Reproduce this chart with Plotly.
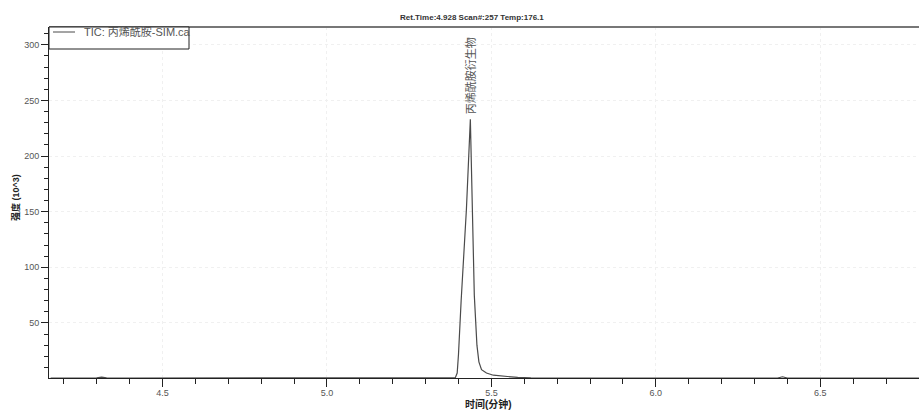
import plotly.graph_objects as go

# Chromatogram data (time in minutes, intensity in 10^3)
times = [4.16, 4.25, 4.30, 4.315, 4.33, 4.40, 4.60, 4.80, 5.00, 5.20, 5.35, 5.390,
         5.396, 5.400, 5.408, 5.424, 5.436, 5.442, 5.448, 5.456, 5.462, 5.470,
         5.485, 5.506, 5.540, 5.580, 5.620, 5.80, 6.00, 6.20, 6.37, 6.385, 6.40,
         6.55, 6.80]
intensity = [0.5, 0.5, 0.6, 1.3, 0.6, 0.5, 0.5, 0.5, 0.5, 0.5, 0.5, 0.6,
             5, 22, 70, 152, 233, 140, 75, 30, 15, 8,
             5, 3, 2, 1, 0.6, 0.5, 0.5, 0.5, 0.5, 1.6, 0.5,
             0.5, 0.5]

series_name = "TIC: 丙烯酰胺-SIM.ca"
peak_label = "丙烯酰胺衍生物"
peak_time = 5.436
peak_height = 233
title_text = "Ret.Time:4.928 Scan#:257 Temp:176.1"
x_title = "时间(分钟)"
y_title = "强度 (10^3)"
x_ticks = [4.5, 5.0, 5.5, 6.0, 6.5]
y_ticks = [50, 100, 150, 200, 250, 300]

FONT = "Liberation Sans, Arial, Noto Sans CJK SC"

fig = go.Figure()
fig.add_trace(go.Scatter(x=times, y=intensity, mode="lines", name=series_name,
                         line=dict(color="#4a4a4a", width=1.2), showlegend=False))

W, H = 919, 410
ml, mr, mt, mb = 49, 0, 27, 32
pw = W - ml - mr
ph = H - mt - mb

fig.update_layout(
    width=W, height=H,
    margin=dict(l=ml, r=mr, t=mt, b=mb, autoexpand=False),
    paper_bgcolor="white", plot_bgcolor="white",
    font=dict(family=FONT, size=9, color="#444"),
    showlegend=False,
)
fig.update_xaxes(
    range=[4.155, 6.80], showline=True, linecolor="#222", linewidth=1,
    tickvals=x_ticks, ticktext=[f"{v:.1f}" for v in x_ticks],
    ticks="outside", ticklen=8, tickcolor="#222", tickwidth=1,
    minor=dict(dtick=0.1, tick0=4.0, ticks="outside", ticklen=5, tickcolor="#222", showgrid=False),
    showgrid=True, gridcolor="#f0f0f0", griddash="dot", gridwidth=1,
    zeroline=False, tickfont=dict(size=9, color="#555"), automargin=False,
    ticklabelstandoff=-2,
)
fig.update_yaxes(
    range=[0.5, 316], showline=True, linecolor="#222", linewidth=1,
    tickvals=y_ticks, ticks="outside", ticklen=7, tickcolor="#222", tickwidth=1,
    minor=dict(dtick=10, tick0=0, ticks="outside", ticklen=4, tickcolor="#222", showgrid=False),
    showgrid=True, gridcolor="#f0f0f0", griddash="dot", gridwidth=1,
    zeroline=False, tickfont=dict(size=9, color="#555"), automargin=False,
)

# axis titles
fig.add_annotation(xref="paper", yref="paper", x=(488 - ml) / pw, y=-(404 - (mt + ph)) / ph,
                   xanchor="center", yanchor="middle", text=f"<b>{x_title}</b>",
                   showarrow=False, font=dict(size=10, color="#222", family=FONT))
fig.add_annotation(xref="paper", yref="paper", x=-(49 - 15) / pw, y=(mt + ph - 198) / ph,
                   xanchor="center", yanchor="middle", text=f"<b>{y_title}</b>", textangle=-90,
                   showarrow=False, font=dict(size=9, color="#222", family=FONT))

# top border
fig.add_shape(type="line", xref="paper", yref="paper", x0=0, x1=1, y0=1, y1=1,
              line=dict(color="#777", width=2))

# legend box (drawn manually)
fig.add_shape(type="rect", xref="paper", yref="paper",
              x0=0, x1=140 / pw, y0=1 - 22 / ph, y1=1,
              line=dict(color="#222", width=1), fillcolor="white")
fig.add_shape(type="line", xref="paper", yref="paper",
              x0=4 / pw, x1=26 / pw, y0=1 - 5 / ph, y1=1 - 5 / ph,
              line=dict(color="#4a4a4a", width=1))
fig.add_annotation(xref="paper", yref="paper", x=33 / pw, y=1 - 5 / ph,
                   xanchor="left", yanchor="middle", text=series_name,
                   showarrow=False, font=dict(size=11, color="#555", family=FONT))

# title
fig.add_annotation(xref="paper", yref="paper", x=(472 - ml) / pw, y=1 + 10 / ph,
                   xanchor="center", yanchor="middle", text=f"<b>{title_text}</b>",
                   showarrow=False, font=dict(size=8, color="#333", family=FONT))

# peak label
fig.add_annotation(x=peak_time, y=peak_height, xanchor="center", yanchor="bottom",
                   text=peak_label, textangle=-90, showarrow=False, yshift=3,
                   font=dict(size=11, color="#555", family=FONT))

fig.write_html("out.html", config={"displayModeBar": False},
               post_script="document.body.style.margin='0';document.body.style.overflow='hidden';")
